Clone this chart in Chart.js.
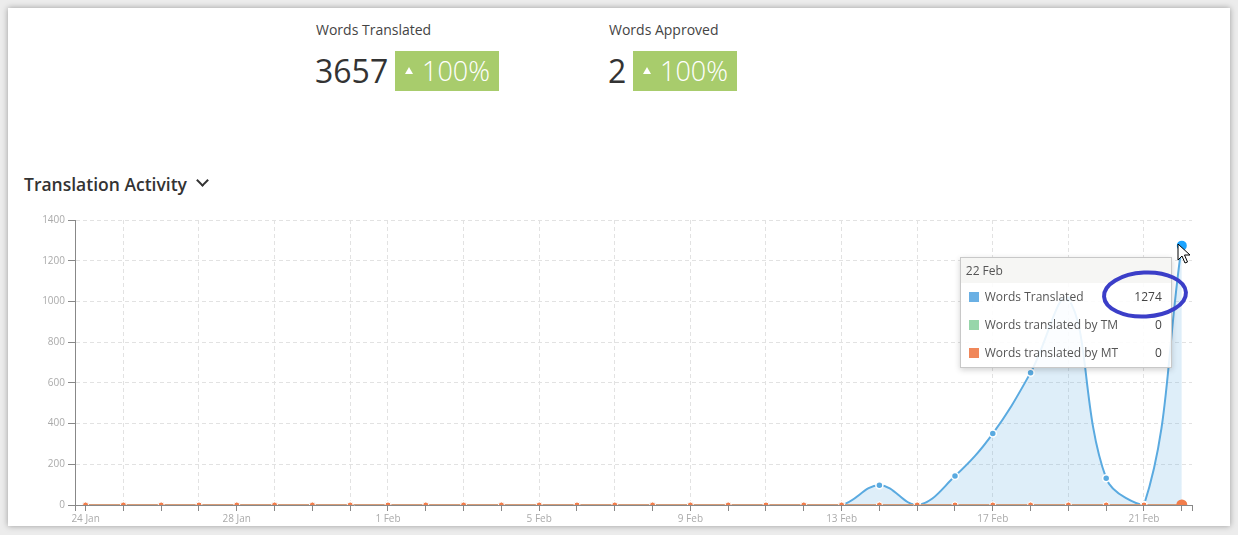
<!DOCTYPE html>
<html>
<head>
<meta charset="utf-8">
<script src="https://cdn.jsdelivr.net/npm/chart.js@4.4.0/dist/chart.umd.min.js"></script>
<style>
    html, body { margin: 0; padding: 0; }
    body { width: 1238px; height: 535px; background: #ececec; font-family: "Open Sans", sans-serif; position: relative; overflow: hidden; }
    .card { position: absolute; left: 8px; top: 8px; width: 1222px; height: 518px; background: #fff; box-shadow: 0 0 6px rgba(0,0,0,0.35); }
    .stat-title { position: absolute; font-size: 14px; color: #444; top: 20px; }
    .stat-num { position: absolute; top: 49px; font-size: 32px; font-weight: 400; color: #333; line-height: 44px; }
    .badge { position: absolute; top: 51px; height: 40px; width: 104px; background: #a8cc6c; color: #fff; font-size: 27px; line-height: 40px; font-weight: 300; }
    .badge .tri { position: absolute; left: 10px; top: 16px; width: 0; height: 0; border-left: 4px solid transparent; border-right: 4px solid transparent; border-bottom: 7px solid #fff; }
    .badge .pct { position: absolute; left: 27px; top: 0; }
    .section-title { position: absolute; left: 24px; top: 172px; font-size: 17.5px; font-weight: 600; color: #333; }
    .chev { position: absolute; left: 198px; top: 176px; width: 7px; height: 7px; border-right: 2.5px solid #333; border-bottom: 2.5px solid #333; transform: rotate(45deg); }
    .chart-box { position: absolute; left: 20px; top: 210px; width: 1180px; height: 322px; }
    #tip { position: absolute; display: none; width: 210px; background: rgba(255,255,255,0.88); border: 1px solid #c8c8c8; box-shadow: 0 2px 6px rgba(0,0,0,0.18); font-size: 12px; color: #555; }
    #tip .head { height: 25px; line-height: 25px; padding-left: 5px; background: rgba(245,245,243,0.95); }
    #tip .row { position: relative; height: 28px; line-height: 28px; }
    #tip .sw { position: absolute; left: 8px; top: 9px; width: 10px; height: 10px; }
    #tip .lab { position: absolute; left: 24px; }
    #tip .val { position: absolute; right: 9px; color: #444; }
    .overlay { position: absolute; left: 0; top: 0; pointer-events: none; }
</style>
</head>
<body>
<div class="card"></div>

<div class="stat-title" style="left:316px">Words Translated</div>
<div class="stat-num" style="left:315px">3657</div>
<div class="badge" style="left:395px"><span class="tri"></span><span class="pct">100%</span></div>

<div class="stat-title" style="left:609px">Words Approved</div>
<div class="stat-num" style="left:608px">2</div>
<div class="badge" style="left:633px"><span class="tri"></span><span class="pct">100%</span></div>

<div class="section-title">Translation Activity</div>
<div class="chev"></div>

<div class="chart-box"><canvas id="activityChart"></canvas></div>
<div id="tip"></div>

<svg class="overlay" width="1238" height="535">
    <ellipse cx="1145" cy="294.5" rx="41" ry="22" fill="none" stroke="#3b3ec8" stroke-width="4" transform="rotate(-3 1145 294.5)"/>
    <polygon points="1178,244 1178,260 1182,256 1185,263 1187.5,262 1184.5,255 1190,255" fill="#fff" stroke="#000" stroke-width="1"/>
</svg>

<script>
// 数据
const days = ['24 Jan', '25 Jan', '26 Jan', '27 Jan', '28 Jan', '29 Jan', '30 Jan', '31 Jan',
    '1 Feb', '2 Feb', '3 Feb', '4 Feb', '5 Feb', '6 Feb', '7 Feb', '8 Feb', '9 Feb', '10 Feb',
    '11 Feb', '12 Feb', '13 Feb', '14 Feb', '15 Feb', '16 Feb', '17 Feb', '18 Feb', '19 Feb',
    '20 Feb', '21 Feb', '22 Feb'];
const wordsTranslated = [0, 0, 0, 0, 0, 0, 0, 0, 0, 0, 0, 0, 0, 0, 0, 0, 0, 0, 0, 0,
    0, 97, 0, 142, 351, 650, 1012, 131, 0, 1274];
const wordsByTM = [0, 0, 0, 0, 0, 0, 0, 0, 0, 0, 0, 0, 0, 0, 0, 0, 0, 0, 0, 0,
    0, 0, 0, 0, 0, 0, 0, 0, 0, 0];
const wordsByMT = [0, 0, 0, 0, 0, 0, 0, 0, 0, 0, 0, 0, 0, 0, 0, 0, 0, 0, 0, 0,
    0, 0, 0, 0, 0, 0, 0, 0, 0, 0];
const seriesNames = ['Words Translated', 'Words translated by TM', 'Words translated by MT'];
const swatches = ['#6ab0e4', '#97d6aa', '#f0875a'];

const toPoints = arr => arr.map((v, i) => ({ x: i, y: v }));

// 竖向网格线：前面隔天一条，2月起偶数位
function isGridDay(v) {
    if (!Number.isInteger(v) || v <= 0) return false;
    return v < 8 ? v % 2 === 1 : v % 2 === 0;
}

// 自定义提示框
function renderTip(context) {
    const tip = context.tooltip;
    const el = document.getElementById('tip');
    if (tip.opacity === 0 || !tip.dataPoints) {
        el.style.display = 'none';
        return;
    }
    const pts = tip.dataPoints.slice().sort((a, b) => a.datasetIndex - b.datasetIndex);
    el.innerHTML = `<div class="head">${days[pts[0].dataIndex]}</div>` + pts.map(p => `
        <div class="row">
            <span class="sw" style="background:${swatches[p.datasetIndex]}"></span>
            <span class="lab">${seriesNames[p.datasetIndex]}</span>
            <span class="val">${p.raw.y}</span>
        </div>`).join('');
    el.style.display = 'block';
    const anchor = pts[0].element;
    const box = context.chart.canvas.getBoundingClientRect();
    el.style.left = (box.left + anchor.x - 10 - el.offsetWidth) + 'px';
    el.style.top = (box.top + anchor.y + 11) + 'px';
}

const ctx = document.getElementById('activityChart').getContext('2d');
const chart = new Chart(ctx, {
    type: 'line',
    data: {
        datasets: [{
            label: seriesNames[0],
            data: toPoints(wordsTranslated),
            borderColor: '#5aaae0',
            backgroundColor: 'rgba(106,176,228,0.22)',
            borderWidth: 2,
            fill: 'origin',
            tension: 0.4,
            pointRadius: 3.5,
            pointBackgroundColor: '#5aaae0',
            pointBorderColor: '#fff',
            pointBorderWidth: 1.5,
            pointHoverRadius: 5,
            pointHoverBorderWidth: 0,
            order: 3
        }, {
            label: seriesNames[1],
            data: toPoints(wordsByTM),
            borderColor: '#97d6aa',
            borderWidth: 2,
            fill: false,
            tension: 0.4,
            pointRadius: 3,
            pointBackgroundColor: '#97d6aa',
            pointBorderColor: '#fff',
            pointBorderWidth: 1,
            pointHoverRadius: 5,
            order: 2
        }, {
            label: seriesNames[2],
            data: toPoints(wordsByMT),
            borderColor: '#d59c78',
            borderWidth: 2,
            fill: false,
            tension: 0.4,
            pointRadius: 3,
            pointBackgroundColor: '#f27d4b',
            pointBorderColor: '#fff',
            pointBorderWidth: 1,
            pointHoverRadius: 5.5,
            pointHoverBackgroundColor: '#f27d4b',
            pointHoverBorderWidth: 0,
            order: 1
        }]
    },
    options: {
        responsive: true,
        maintainAspectRatio: false,
        animation: false,
        events: [],
        layout: { padding: { top: 10, right: 8, left: 0, bottom: 0 } },
        plugins: {
            legend: { display: false },
            tooltip: {
                enabled: false,
                mode: 'index',
                intersect: false,
                external: renderTip
            }
        },
        scales: {
            x: {
                type: 'linear',
                min: -0.28,
                max: days.length - 1 + 0.27,
                afterBuildTicks: axis => {
                    axis.ticks = [{ value: axis.min }]
                        .concat(days.map((d, i) => ({ value: i })), [{ value: axis.max }]);
                },
                afterFit: scale => { scale.height = 27; },
                border: { color: '#888', width: 1, dash: [4, 3] },
                grid: {
                    color: c => isGridDay(c.tick && c.tick.value) ? '#e2e2e2' : 'rgba(0,0,0,0)',
                    tickColor: '#888',
                    tickLength: 6,
                    lineWidth: 1
                },
                ticks: {
                    autoSkip: false,
                    maxRotation: 0,
                    padding: 2,
                    color: '#aaa',
                    font: { family: 'Open Sans', size: 10 },
                    callback: v => (Number.isInteger(v) && v % 4 === 0) ? days[v] : ''
                }
            },
            y: {
                min: 0,
                max: 1400,
                afterFit: scale => { scale.width = 55; },
                border: { color: '#888', width: 1, dash: [4, 3] },
                grid: {
                    color: c => (c.tick && c.tick.value === 0) ? 'rgba(0,0,0,0)' : '#e2e2e2',
                    tickColor: '#888',
                    tickLength: 7,
                    lineWidth: 1
                },
                ticks: {
                    stepSize: 200,
                    padding: 3,
                    color: '#aaa',
                    font: { family: 'Open Sans', size: 10 },
                    callback: v => String(v)
                }
            }
        }
    }
});

// 高亮最后一天（22 Feb）
const lastIdx = days.length - 1;
const active = chart.data.datasets.map((d, i) => ({ datasetIndex: i, index: lastIdx }));
chart.setActiveElements(active);
chart.tooltip.setActiveElements(active, { x: 0, y: 0 });
chart.update();
</script>
</body>
</html>
